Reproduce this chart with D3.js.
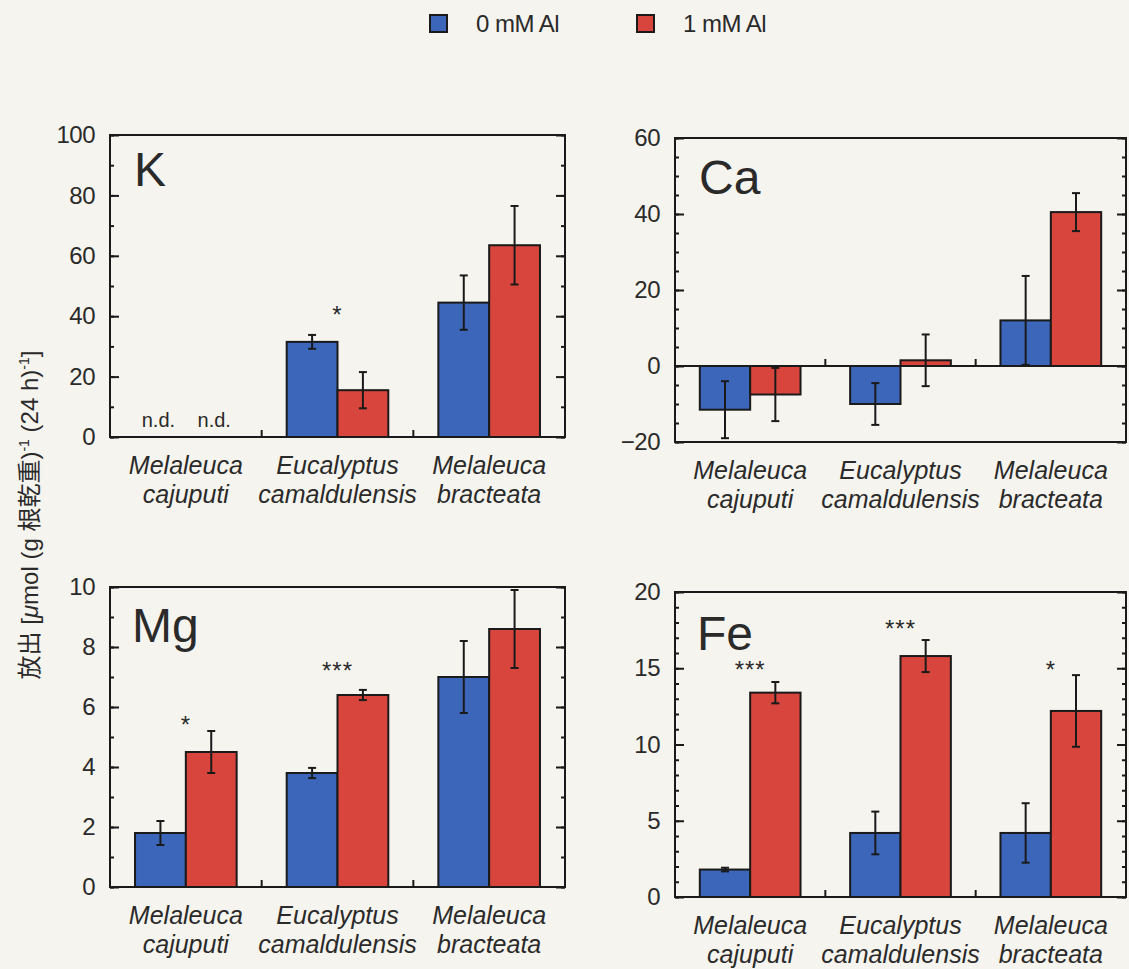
<!DOCTYPE html>
<html>
<head>
<meta charset="utf-8">
<script src="https://cdn.jsdelivr.net/npm/d3@7"></script>
<style>
  body { margin: 0; background: #f6f4ee; }
  svg { display: block; }
  text { font-family: "Liberation Sans", Arial, sans-serif; fill: #2a2a2a; }
</style>
</head>
<body>
<div id="chart"></div>
<script>
// species on the x axis (two lines each)
var species = [["Melaleuca", "cajuputi"], ["Eucalyptus", "camaldulensis"], ["Melaleuca", "bracteata"]];
var treatments = ["0 mM Al", "1 mM Al"];
var colors = ["#3b66b9", "#d8453d"];

// K
var kMean0 = [null, 31.5, 44.5];
var kErr0 = [null, 2.3, 9];
var kMean1 = [null, 15.5, 63.5];
var kErr1 = [null, 6, 13];
var kSig = ["", "*", ""];
var kSigY = [null, 41.5, null];

// Ca
var caMean0 = [-11.5, -10, 12];
var caErr0 = [7.5, 5.5, 11.7];
var caMean1 = [-7.5, 1.5, 40.5];
var caErr1 = [7, 6.8, 5];

// Mg
var mgMean0 = [1.8, 3.8, 7.0];
var mgErr0 = [0.4, 0.17, 1.2];
var mgMean1 = [4.5, 6.4, 8.6];
var mgErr1 = [0.7, 0.17, 1.3];
var mgSig = ["*", "***", ""];
var mgSigY = [5.5, 7.3, null];

// Fe
var feMean0 = [1.8, 4.2, 4.2];
var feErr0 = [0.12, 1.4, 1.95];
var feMean1 = [13.4, 15.8, 12.2];
var feErr1 = [0.7, 1.05, 2.35];
var feSig = ["***", "***", "*"];
var feSigY = [15.1, 17.8, 15.1];

var width = 1129, height = 969;

var svg = d3.select("#chart").append("svg")
    .attr("width", width)
    .attr("height", height);

svg.append("rect").attr("width", width).attr("height", height).attr("fill", "#f6f4ee");

// legend
var legend = svg.append("g");
var legendX = [430, 637];
treatments.forEach(function (t, i) {
    legend.append("rect")
        .attr("x", legendX[i]).attr("y", 15)
        .attr("width", 17).attr("height", 17)
        .attr("fill", colors[i])
        .attr("stroke", "#1a1a1a").attr("stroke-width", 2);
    legend.append("text")
        .attr("x", legendX[i] + 46).attr("y", 32)
        .attr("font-size", 24)
        .attr("letter-spacing", -0.5)
        .text(t);
});

// y axis title
var yTitle = svg.append("text")
    .attr("transform", "translate(38,515) rotate(-90)")
    .attr("text-anchor", "middle")
    .attr("font-size", 24)
    .style("font-family", "'Liberation Sans', 'Noto Sans CJK JP', sans-serif");
yTitle.append("tspan").text("放出 [");
yTitle.append("tspan").style("font-style", "italic").text("μ");
yTitle.append("tspan").text("mol (g 根乾重)");
yTitle.append("tspan").attr("font-size", 14).attr("dy", -9).text("-1");
yTitle.append("tspan").attr("dy", 9).text(" (24 h)");
yTitle.append("tspan").attr("font-size", 14).attr("dy", -9).text("-1");
yTitle.append("tspan").attr("dy", 9).text("]");

function drawPanel(cfg) {
    var g = svg.append("g").attr("transform", "translate(" + cfg.left + "," + cfg.top + ")");
    var w = cfg.width, h = cfg.height;

    var x = d3.scaleBand()
        .domain(d3.range(species.length))
        .range([0, w])
        .paddingInner(0)
        .paddingOuter(0);
    var xs = d3.scaleBand()
        .domain([0, 1])
        .range([x.bandwidth() * 0.165, x.bandwidth() * 0.835]);
    var y = d3.scaleLinear().domain(cfg.domain).range([h, 0]);

    // minor ticks
    var minor = d3.range(cfg.domain[0], cfg.domain[1] + 0.001, cfg.minor);
    g.append("g").attr("class", "axis")
        .call(d3.axisLeft(y).tickValues(minor).tickSize(-4).tickFormat(""));
    g.append("g").attr("class", "axis")
        .attr("transform", "translate(" + w + ",0)")
        .call(d3.axisRight(y).tickValues(minor).tickSize(-4).tickFormat(""));

    // major ticks
    var major = d3.range(cfg.domain[0], cfg.domain[1] + 0.001, cfg.major);
    g.append("g").attr("class", "axis major")
        .call(d3.axisLeft(y).tickValues(major).tickSize(-9).tickPadding(15).tickFormat(d3.format("d")));
    g.append("g").attr("class", "axis")
        .attr("transform", "translate(" + w + ",0)")
        .call(d3.axisRight(y).tickValues(major).tickSize(-9).tickFormat(""));

    g.selectAll(".axis path").remove();
    g.selectAll(".axis line").attr("stroke", "#1a1a1a").attr("stroke-width", 2);
    g.selectAll(".major text").attr("font-size", 24).attr("fill", "#2a2a2a")
        .attr("letter-spacing", -0.5)
        .style("font-family", "'Liberation Sans', Arial, sans-serif");

    // bars
    var series = [
        { mean: cfg.mean0, err: cfg.err0, color: colors[0], k: 0 },
        { mean: cfg.mean1, err: cfg.err1, color: colors[1], k: 1 }
    ];
    series.forEach(function (s) {
        species.forEach(function (sp, i) {
            if (s.mean[i] === null) return;
            var bx = x(i) + xs(s.k);
            var y0 = y(0), y1 = y(s.mean[i]);
            g.append("rect")
                .attr("x", bx).attr("width", xs.bandwidth())
                .attr("y", Math.min(y0, y1)).attr("height", Math.abs(y0 - y1))
                .attr("fill", s.color)
                .attr("stroke", "#1a1a1a").attr("stroke-width", 2);
        });
    });
    // error bars
    series.forEach(function (s) {
        species.forEach(function (sp, i) {
            if (s.mean[i] === null) return;
            var cx = x(i) + xs(s.k) + xs.bandwidth() / 2;
            var lo = y(s.mean[i] - s.err[i]), hi = y(s.mean[i] + s.err[i]);
            g.append("line").attr("x1", cx).attr("x2", cx).attr("y1", lo).attr("y2", hi)
                .attr("stroke", "#1a1a1a").attr("stroke-width", 2);
            [lo, hi].forEach(function (yy) {
                g.append("line").attr("x1", cx - 4).attr("x2", cx + 4).attr("y1", yy).attr("y2", yy)
                    .attr("stroke", "#1a1a1a").attr("stroke-width", 2);
            });
        });
    });

    // zero line and group dividers
    g.append("line").attr("x1", 0).attr("x2", w).attr("y1", y(0)).attr("y2", y(0))
        .attr("stroke", "#1a1a1a").attr("stroke-width", 2);
    [1, 2].forEach(function (i) {
        g.append("line").attr("x1", x(i)).attr("x2", x(i))
            .attr("y1", y(0)).attr("y2", y(0) - 7)
            .attr("stroke", "#1a1a1a").attr("stroke-width", 2);
    });

    // frame
    g.append("rect").attr("width", w).attr("height", h)
        .attr("fill", "none").attr("stroke", "#1a1a1a").attr("stroke-width", 2);

    // significance marks
    if (cfg.sig) {
        cfg.sig.forEach(function (t, i) {
            if (!t) return;
            g.append("text")
                .attr("x", x(i) + x.bandwidth() / 2)
                .attr("y", y(cfg.sigY[i]) + 11)
                .attr("text-anchor", "middle")
                .attr("font-size", 24)
                .attr("letter-spacing", 1)
                .text(t);
        });
    }

    // not detected labels
    if (cfg.nd) {
        [0, 1].forEach(function (k) {
            if (cfg.mean0[0] === null)
                g.append("text")
                    .attr("x", x(0) + xs(k) + xs.bandwidth() / 2 + (k === 0 ? -2 : 3))
                    .attr("y", y(0) - 10)
                    .attr("text-anchor", "middle")
                    .attr("font-size", 20)
                    .text("n.d.");
        });
    }

    // panel label
    g.append("text")
        .attr("x", cfg.labelX).attr("y", cfg.labelY)
        .attr("font-size", 48)
        .attr("fill", "#111")
        .text(cfg.label);

    // species labels
    var bottom = h;
    species.forEach(function (sp, i) {
        var t = g.append("text")
            .attr("x", x(i) + x.bandwidth() / 2)
            .attr("text-anchor", "middle")
            .attr("font-size", 25)
            .style("font-style", "italic")
            .attr("fill", "#333");
        t.append("tspan").attr("x", x(i) + x.bandwidth() / 2).attr("y", bottom + 37).text(sp[0]);
        t.append("tspan").attr("x", x(i) + x.bandwidth() / 2).attr("y", bottom + 66).text(sp[1]);
    });
}

drawPanel({ left: 110, top: 135, width: 455, height: 302, domain: [0, 100], major: 20, minor: 10,
    mean0: kMean0, err0: kErr0, mean1: kMean1, err1: kErr1, sig: kSig, sigY: kSigY, nd: true,
    label: "K", labelX: 24, labelY: 51 });
drawPanel({ left: 675, top: 138, width: 451, height: 304, domain: [-20, 60], major: 20, minor: 5,
    mean0: caMean0, err0: caErr0, mean1: caMean1, err1: caErr1,
    label: "Ca", labelX: 24, labelY: 56 });
drawPanel({ left: 110, top: 587, width: 455, height: 300, domain: [0, 10], major: 2, minor: 1,
    mean0: mgMean0, err0: mgErr0, mean1: mgMean1, err1: mgErr1, sig: mgSig, sigY: mgSigY,
    label: "Mg", labelX: 22, labelY: 55 });
drawPanel({ left: 675, top: 592, width: 451, height: 305, domain: [0, 20], major: 5, minor: 1,
    mean0: feMean0, err0: feErr0, mean1: feMean1, err1: feErr1, sig: feSig, sigY: feSigY,
    label: "Fe", labelX: 22, labelY: 58 });
</script>
</body>
</html>
